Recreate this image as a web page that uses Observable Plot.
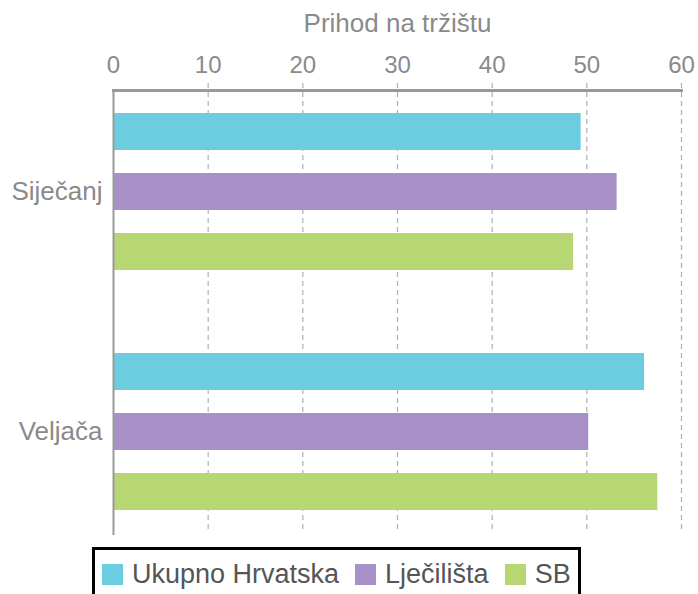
<!DOCTYPE html>
<html>
<head>
<meta charset="utf-8">
<script src="https://cdn.jsdelivr.net/npm/d3@7"></script>
<script src="https://cdn.jsdelivr.net/npm/@observablehq/plot@0.6"></script>
<style>
  body { margin: 0; background: #fff; font-family: "Liberation Sans", Arial, sans-serif; }
  #wrap { position: relative; width: 698px; height: 594px; overflow: hidden; }
  #legendbox {
    position: absolute; left: 92px; top: 547px; width: 483px; height: 60px;
    border: 3px solid #000; background: #fff; box-sizing: content-box;
    display: flex; align-items: flex-start; padding: 0; margin: 0;
  }
  .item { display: flex; align-items: center; font-size: 27px; color: #555; margin-top: 9px; white-space: nowrap; }
  .item:first-child { margin-left: 7px; }
  .item + .item { margin-left: 16px; }
  .sw { width: 21px; height: 21px; margin-right: 9px; display: inline-block; }
</style>
</head>
<body>
<div id="wrap"><div id="chart"></div><div id="legendbox"></div></div>
<script>
const months = ["Siječanj", "Veljača"];
const series = ["Ukupno Hrvatska", "Lječilišta", "SB"];
const ukupnoHrvatska = [49.4, 56.1];
const ljecilista = [53.2, 50.2];
const sb = [48.6, 57.5];
const seriesColors = ["#6dcde0", "#a891c8", "#b7d772"];
const xTicks = [0, 10, 20, 30, 40, 50, 60];
const axisTitle = "Prihod na tržištu";

const valuesBySeries = [ukupnoHrvatska, ljecilista, sb];
const key = (m, s) => m + "|" + s;
const data = [];
months.forEach((m, i) => series.forEach((s, j) => data.push({month: m, series: s, key: key(m, s), value: valuesBySeries[j][i]})));
// band domain: the three bars of each month, with an empty spacer band between months
const yDomain = [];
months.forEach((m, i) => {
  if (i > 0) yDomain.push("spacer" + i);
  series.forEach(s => yDomain.push(key(m, s)));
});
const labelKeys = months.map(m => key(m, series[1]));

const font = "Liberation Sans, Arial, sans-serif";
const chart = Plot.plot({
  width: 698,
  height: 540,
  marginTop: 90,
  marginBottom: 6,
  marginLeft: 113,
  marginRight: 17,
  style: {fontFamily: font, background: "transparent", overflow: "visible"},
  x: {domain: [0, 60], axis: null},
  y: {domain: yDomain, paddingInner: 0.379, paddingOuter: 0.364, axis: null},
  color: {domain: series, range: seriesColors},
  marks: [
    Plot.ruleX(xTicks.filter(d => d !== 0), {stroke: "#b0b0b0", strokeWidth: 1.2, strokeDasharray: "5,4", insetTop: -7, insetBottom: 2}),
    Plot.barX(data, {y: "key", x: "value", fill: "series"}),
    Plot.ruleX([0], {stroke: "#999", strokeWidth: 2, insetBottom: -1}),
    Plot.frame({anchor: "top", stroke: "#999", strokeWidth: 3}),
    Plot.axisX(xTicks, {anchor: "top", tickSize: 0, tickPadding: 18, fontSize: 24, color: "#8a8a8a", label: null}),
    Plot.axisX([], {anchor: "top", tickSize: 0, fontSize: 26, color: "#8a8a8a",
      label: axisTitle, labelAnchor: "center", labelOffset: 77, labelArrow: "none"}),
    Plot.axisY(labelKeys, {anchor: "left", tickSize: 0, tickPadding: 11, fontSize: 26, color: "#8a8a8a",
      tickFormat: d => d.split("|")[0], label: null})
  ]
});
document.getElementById("chart").appendChild(chart);

const color = chart.scale("color");
const box = document.getElementById("legendbox");
color.domain.forEach((d, i) => {
  const item = document.createElement("span");
  item.className = "item";
  const sw = document.createElement("span");
  sw.className = "sw";
  sw.style.background = color.range[i];
  item.appendChild(sw);
  item.appendChild(document.createTextNode(d));
  box.appendChild(item);
});
</script>
</body>
</html>
